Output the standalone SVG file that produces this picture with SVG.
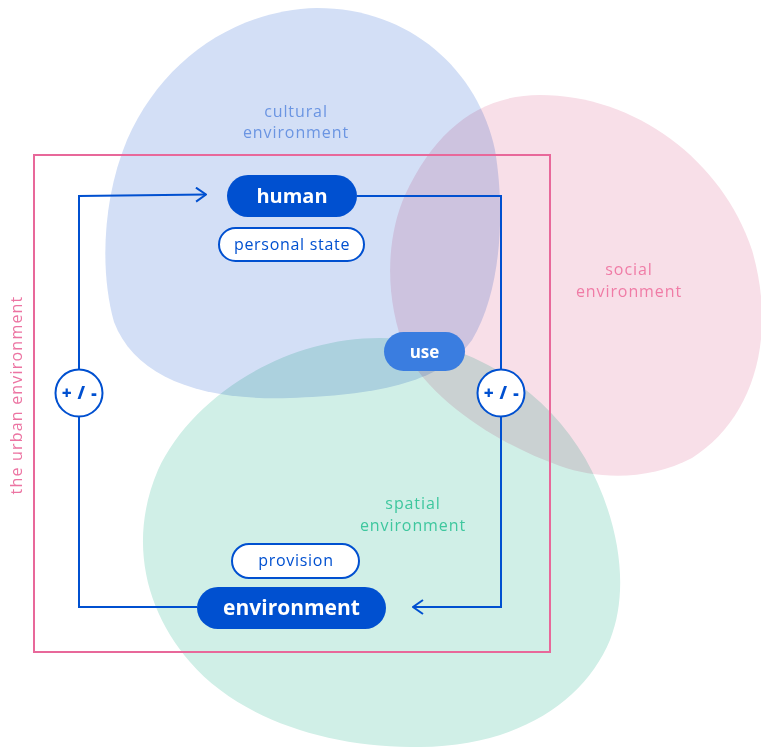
<svg xmlns="http://www.w3.org/2000/svg" width="761" height="747" viewBox="0 0 761 747">
  <style>
    .blob { mix-blend-mode: multiply; }
    .zone-label { font-family: "Open Sans", "Noto Sans", sans-serif; font-size: 16px; letter-spacing: 0.9px; text-anchor: middle; }
    .link { fill: none; stroke: #0050d0; stroke-width: 2; }
    .pill-solid { fill: #0050d0; }
    .pill-outline { fill: #ffffff; stroke: #0050d0; stroke-width: 2; }
    .t-bold { font-family: "Open Sans", "Noto Sans", sans-serif; font-weight: 700; fill: #ffffff; text-anchor: middle; }
    .t-reg { font-family: "Open Sans", "Noto Sans", sans-serif; font-size: 16px; letter-spacing: 0.7px; fill: #0050d0; text-anchor: middle; }
    .sign { fill: #ffffff; stroke: #0050d0; stroke-width: 2; }
    .sign-text { font-family: "Open Sans", "Noto Sans", sans-serif; font-weight: 800; font-size: 17px; letter-spacing: 0.8px; fill: #0050d0; text-anchor: middle; }
  </style>
  <defs>
    <marker id="chevron" viewBox="0 0 12 16" refX="11" refY="8" markerWidth="12" markerHeight="16" markerUnits="userSpaceOnUse" orient="auto">
      <path d="M1,1 L11,8 L1,15" fill="none" stroke="#0050d0" stroke-width="2"/>
    </marker>
  </defs>

  <!-- overlapping environment spheres -->
  <g id="spheres">
    <path id="cultural-blob" class="blob" fill="#d3dff6" d="M317,8 C410,8 478,70 495,150 C505,210 502,290 472,340 C440,385 370,395 290,398 C200,401 135,377 114,322 C100,272 102,200 127,140 C162,60 235,10 317,8 Z"/>
    <path id="social-blob" class="blob" fill="#f8dfe8" d="M540,95 C635,95 722,160 752,250 C778,340 752,420 692,458 C650,480 600,480 560,466 C500,445 432,402 406,352 C385,302 385,240 405,195 C435,130 480,95 540,95 Z"/>
    <path id="spatial-blob" class="blob" fill="#d0efe7" d="M380,338 C470,338 545,390 585,458 C620,520 630,590 610,640 C585,700 520,746 420,747 C330,748 240,720 190,662 C145,610 128,540 158,470 C190,400 280,338 380,338 Z"/>
  </g>

  <!-- urban frame -->
  <g id="urban-frame">
    <rect x="34" y="155" width="516" height="497" fill="none" stroke="#e8689a" stroke-width="2"/>
    <text class="zone-label" fill="#ec74a2" transform="translate(22,395) rotate(-90)" style="letter-spacing:1.2px">the urban environment</text>
  </g>

  <!-- sphere labels -->
  <g id="labels">
    <text class="zone-label" fill="#6b95e2" x="296" y="117">cultural</text>
    <text class="zone-label" fill="#6b95e2" x="296" y="138">environment</text>
    <text class="zone-label" fill="#f07ca6" x="629" y="275">social</text>
    <text class="zone-label" fill="#f07ca6" x="629" y="297">environment</text>
    <text class="zone-label" fill="#3ec79e" x="413" y="509">spatial</text>
    <text class="zone-label" fill="#3ec79e" x="413" y="531">environment</text>
  </g>

  <!-- feedback loop -->
  <g id="connectors">
    <path class="link" d="M79,369 L79,196 L206,194.5" marker-end="url(#chevron)"/>
    <path class="link" d="M197,607 L79,607 L79,416"/>
    <path class="link" d="M357,196 L501,196 L501,370"/>
    <path class="link" d="M501,416 L501,607 L413,607" marker-end="url(#chevron)"/>
  </g>

  <g id="node-human">
    <rect class="pill-solid" x="227" y="175" width="130" height="42" rx="21"/>
    <text class="t-bold" x="292" y="203" font-size="20">human</text>
  </g>
  <g id="node-personal-state">
    <rect class="pill-outline" x="219" y="228" width="145" height="33" rx="16.5"/>
    <text class="t-reg" x="292" y="250">personal state</text>
  </g>
  <g id="node-use">
    <rect x="384" y="332" width="81" height="39" rx="19.5" fill="#3a7de0"/>
    <text class="t-bold" x="424.5" y="358" font-size="17">use</text>
  </g>
  <g id="node-environment">
    <rect class="pill-solid" x="197" y="587" width="189" height="42" rx="21"/>
    <text class="t-bold" x="291.5" y="615" font-size="21">environment</text>
  </g>
  <g id="node-provision">
    <rect class="pill-outline" x="232" y="544" width="127" height="34" rx="17"/>
    <text class="t-reg" x="296" y="566">provision</text>
  </g>
  <g id="node-sign-left">
    <circle class="sign" cx="79" cy="393" r="23.5"/>
    <text class="sign-text" x="79.5" y="399">+ / -</text>
  </g>
  <g id="node-sign-right">
    <circle class="sign" cx="501" cy="393" r="23.5"/>
    <text class="sign-text" x="501.5" y="399">+ / -</text>
  </g>
</svg>
